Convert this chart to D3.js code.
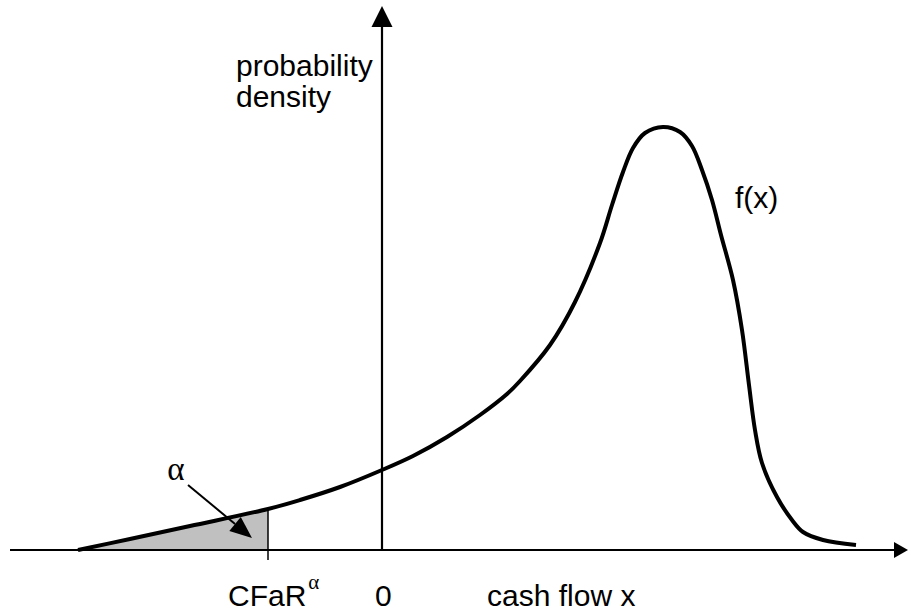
<!DOCTYPE html>
<html><head><meta charset="utf-8">
<script src="https://cdn.jsdelivr.net/npm/d3@7"></script>
<style>body{margin:0;background:#fff}svg{display:block}</style>
</head><body>
<svg id="c" width="908" height="614"></svg>
<script>
// density curve f(x), cash flow units (0 at the vertical axis)
const cashFlow = [-30.4,-25.2,-19.2,-11.4,-8.2,-4.2,0,3.1,6.5,9.8,12.5,13.8,16.8,19.3,21.8,23.0,24.1,25.1,26.3,28.1,29.8,31.0,32.0,33.0,33.9,35.1,36.0,36.7,37.3,38.0,39.5,41.0,42.1,44.1,47.4];
const density  = [0.0,1.1,2.4,4.1,5.0,6.3,8.0,9.4,11.3,13.5,15.6,16.9,20.5,24.8,30.7,34.5,37.8,40.2,41.7,42.3,41.8,40.4,38.0,35.0,31.5,27.0,22.0,16.5,12.0,8.7,5.3,3.0,1.8,1.0,0.5];
const cfarValue = -11.4;
const tickLabels = ["CFaR", "0", "cash flow x"];
const tickPos = [-15.4, -0.7, 10.5];
const yLabel = ["probability", "density"];
const curveLabel = "f(x)";
const alphaLabel = "\u03B1";

const svg = d3.select("#c");
const x = d3.scaleLinear().domain([-37.2, 52.6]).range([10, 908]);
const y = d3.scaleLinear().domain([0, 54.4]).range([550, 6]);

const pts = cashFlow.map((v,i)=>({x:v,y:density[i]}));
const tail = pts.filter(p=>p.x<=cfarValue);
const crv = d3.curveCatmullRom.alpha(0.5);

// shaded tail
svg.append("path").datum(tail)
  .attr("d", d3.area().x(d=>x(d.x)).y0(y(0)).y1(d=>y(d.y)).curve(crv))
  .attr("fill","#c0c0c0");

// x axis
svg.append("line").attr("x1",x(-37.2)).attr("x2",x(51.2)).attr("y1",y(0)).attr("y2",y(0))
  .attr("stroke","#000").attr("stroke-width",2.2);
svg.append("path").attr("d",`M${x(51.2)},${y(0)-8}L${x(52.6)},${y(0)}L${x(51.2)},${y(0)+8}Z`).attr("fill","#000");
// y axis
svg.append("line").attr("x1",x(0)).attr("x2",x(0)).attr("y1",y(0)).attr("y2",y(52.3))
  .attr("stroke","#000").attr("stroke-width",2.2);
svg.append("path").attr("d",`M${x(0)-10.5},${y(52.3)}L${x(0)},${y(54.4)}L${x(0)+10.5},${y(52.3)}Z`).attr("fill","#000");

// CFaR marker
svg.append("line").attr("x1",x(cfarValue)).attr("x2",x(cfarValue))
  .attr("y1",y(density[cashFlow.indexOf(cfarValue)])).attr("y2",y(-1.0))
  .attr("stroke","#000").attr("stroke-width",1.5);

// curve
svg.append("path").datum(pts)
  .attr("d", d3.line().x(d=>x(d.x)).y(d=>y(d.y)).curve(crv))
  .attr("fill","none").attr("stroke","#000").attr("stroke-width",4).attr("stroke-linejoin","round");

// alpha arrow
const a0=[x(-19.4),y(6.5)], a1=[x(-13.0),y(1.2)];
const ang=Math.atan2(a1[1]-a0[1],a1[0]-a0[0]);
const hl=22, hw=9;
const bx=a1[0]-hl*Math.cos(ang), by=a1[1]-hl*Math.sin(ang);
svg.append("line").attr("x1",a0[0]).attr("y1",a0[1]).attr("x2",bx).attr("y2",by).attr("stroke","#000").attr("stroke-width",2);
svg.append("path").attr("d",`M${a1[0]},${a1[1]}L${bx+hw*Math.sin(ang)},${by-hw*Math.cos(ang)}L${bx-hw*Math.sin(ang)},${by+hw*Math.cos(ang)}Z`).attr("fill","#000");

const font="Liberation Sans, Arial, sans-serif";
const fs=30;
svg.append("text").attr("x",x(-20.6)).attr("y",y(7.0)).attr("text-anchor","middle")
  .attr("font-family","Liberation Serif, serif").attr("font-size",33).text(alphaLabel);

svg.append("text").attr("x",x(-14.6)).attr("y",76).attr("font-family",font).attr("font-size",fs).text(yLabel[0]);
svg.append("text").attr("x",x(-14.6)).attr("y",107).attr("font-family",font).attr("font-size",fs).text(yLabel[1]);
svg.append("text").attr("x",x(35.3)).attr("y",y(34.2)).attr("font-family",font).attr("font-size",fs).text(curveLabel);

const tl=svg.append("g");
tickLabels.forEach((t,i)=>{
  const tx=tl.append("text").attr("x",x(tickPos[i])).attr("y",606).attr("font-family",font).attr("font-size",fs).text(t);
  if(i===0) tx.append("tspan").attr("font-family","Liberation Serif, serif").attr("font-size",21).attr("dy",-17).attr("dx",2).text(alphaLabel);
});
</script>
</body></html>
